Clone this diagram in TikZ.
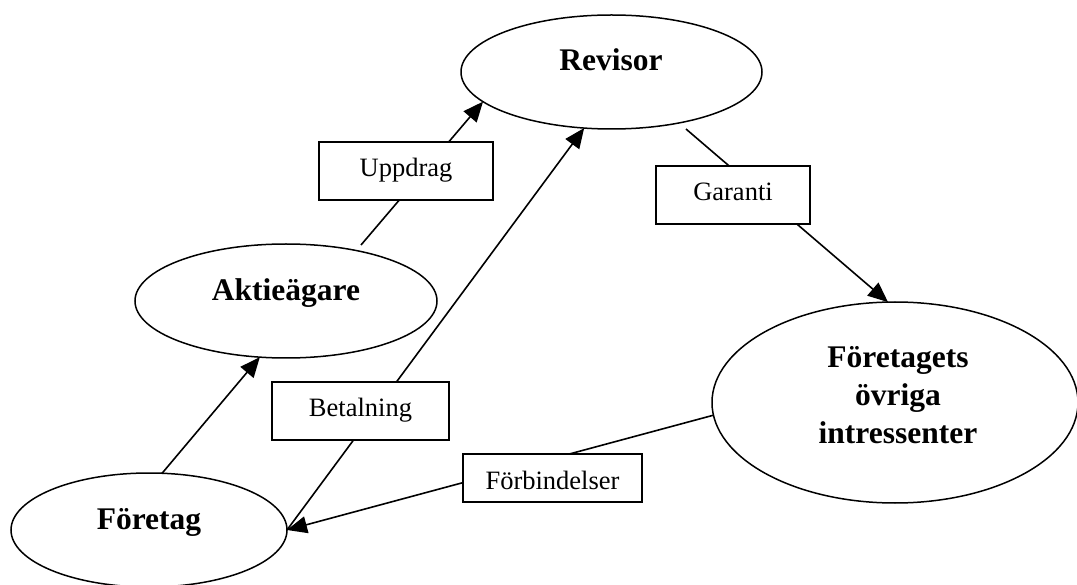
\documentclass[tikz,border=0pt]{standalone}
\usepackage{fontspec}
\setmainfont{Liberation Serif}
\usetikzlibrary{arrows.meta,shapes.geometric}
\begin{document}
\begin{tikzpicture}[x=1pt,y=-1pt,
  oval/.style={ellipse,draw,line width=1.5pt,inner sep=0pt,outer sep=0pt},
  big/.style={font=\fontsize{31.5pt}{37.5pt}\selectfont\bfseries,inner sep=0pt,anchor=base},
  lbox/.style={rectangle,draw,fill=white,line width=1.5pt,inner sep=0pt,
    font=\fontsize{26.5pt}{31pt}\selectfont,text height=18pt,text depth=6pt},
  conn/.style={line width=1.6pt},
  arr/.style={-{Triangle[length=20pt,width=17pt]}}]
\useasboundingbox (0,0) rectangle (1077,585);
% ellipses
\node[oval,minimum width=301pt,minimum height=114pt] (revisor) at (611.5,72) {};
\node[oval,minimum width=302pt,minimum height=114pt] (aktie) at (286,301) {};
\node[oval,minimum width=276pt,minimum height=114pt] (foretag) at (149,530) {};
\node[oval,minimum width=366pt,minimum height=201pt] (ovriga) at (895,402.5) {};
% ellipse texts
\node[big] (revisorT) at (611,71) {Revisor};
\node[big] (aktieT) at (286,301) {Aktieägare};
\node[big] (foretagT) at (149,529) {Företag};
\node[big] (ovrigaT1) at (898,368) {Företagets};
\node[big] (ovrigaT2) at (898,405.5) {övriga};
\node[big] (ovrigaT3) at (898,443) {intressenter};
% free ends
\coordinate (u0) at (361,245);
\coordinate (g0) at (686,129);
% connectors
\draw[conn,arr] (u0) -- (revisor.193.4);
\draw[conn,arr] (foretag.77.2) -- (aktie.245);
\draw[conn,arr] (foretag.east) -- (revisor.244.7);
\draw[conn,arr] (g0) -- (ovriga.94.6);
\draw[conn,arr] (ovriga.184.7) -- (foretag.east);
% label boxes
\node[lbox,minimum width=174pt,minimum height=58pt] (uppdrag) at (406,171) {Uppdrag};
\node[lbox,minimum width=177pt,minimum height=58pt] (betalning) at (360.5,411) {Betalning};
\node[lbox,minimum width=154pt,minimum height=58pt] (garanti) at (733,195) {Garanti};
\node[lbox,minimum width=179pt,minimum height=48pt,text height=26pt,text depth=4pt] (forb) at (552.5,478) {Förbindelser};
\end{tikzpicture}
\end{document}
